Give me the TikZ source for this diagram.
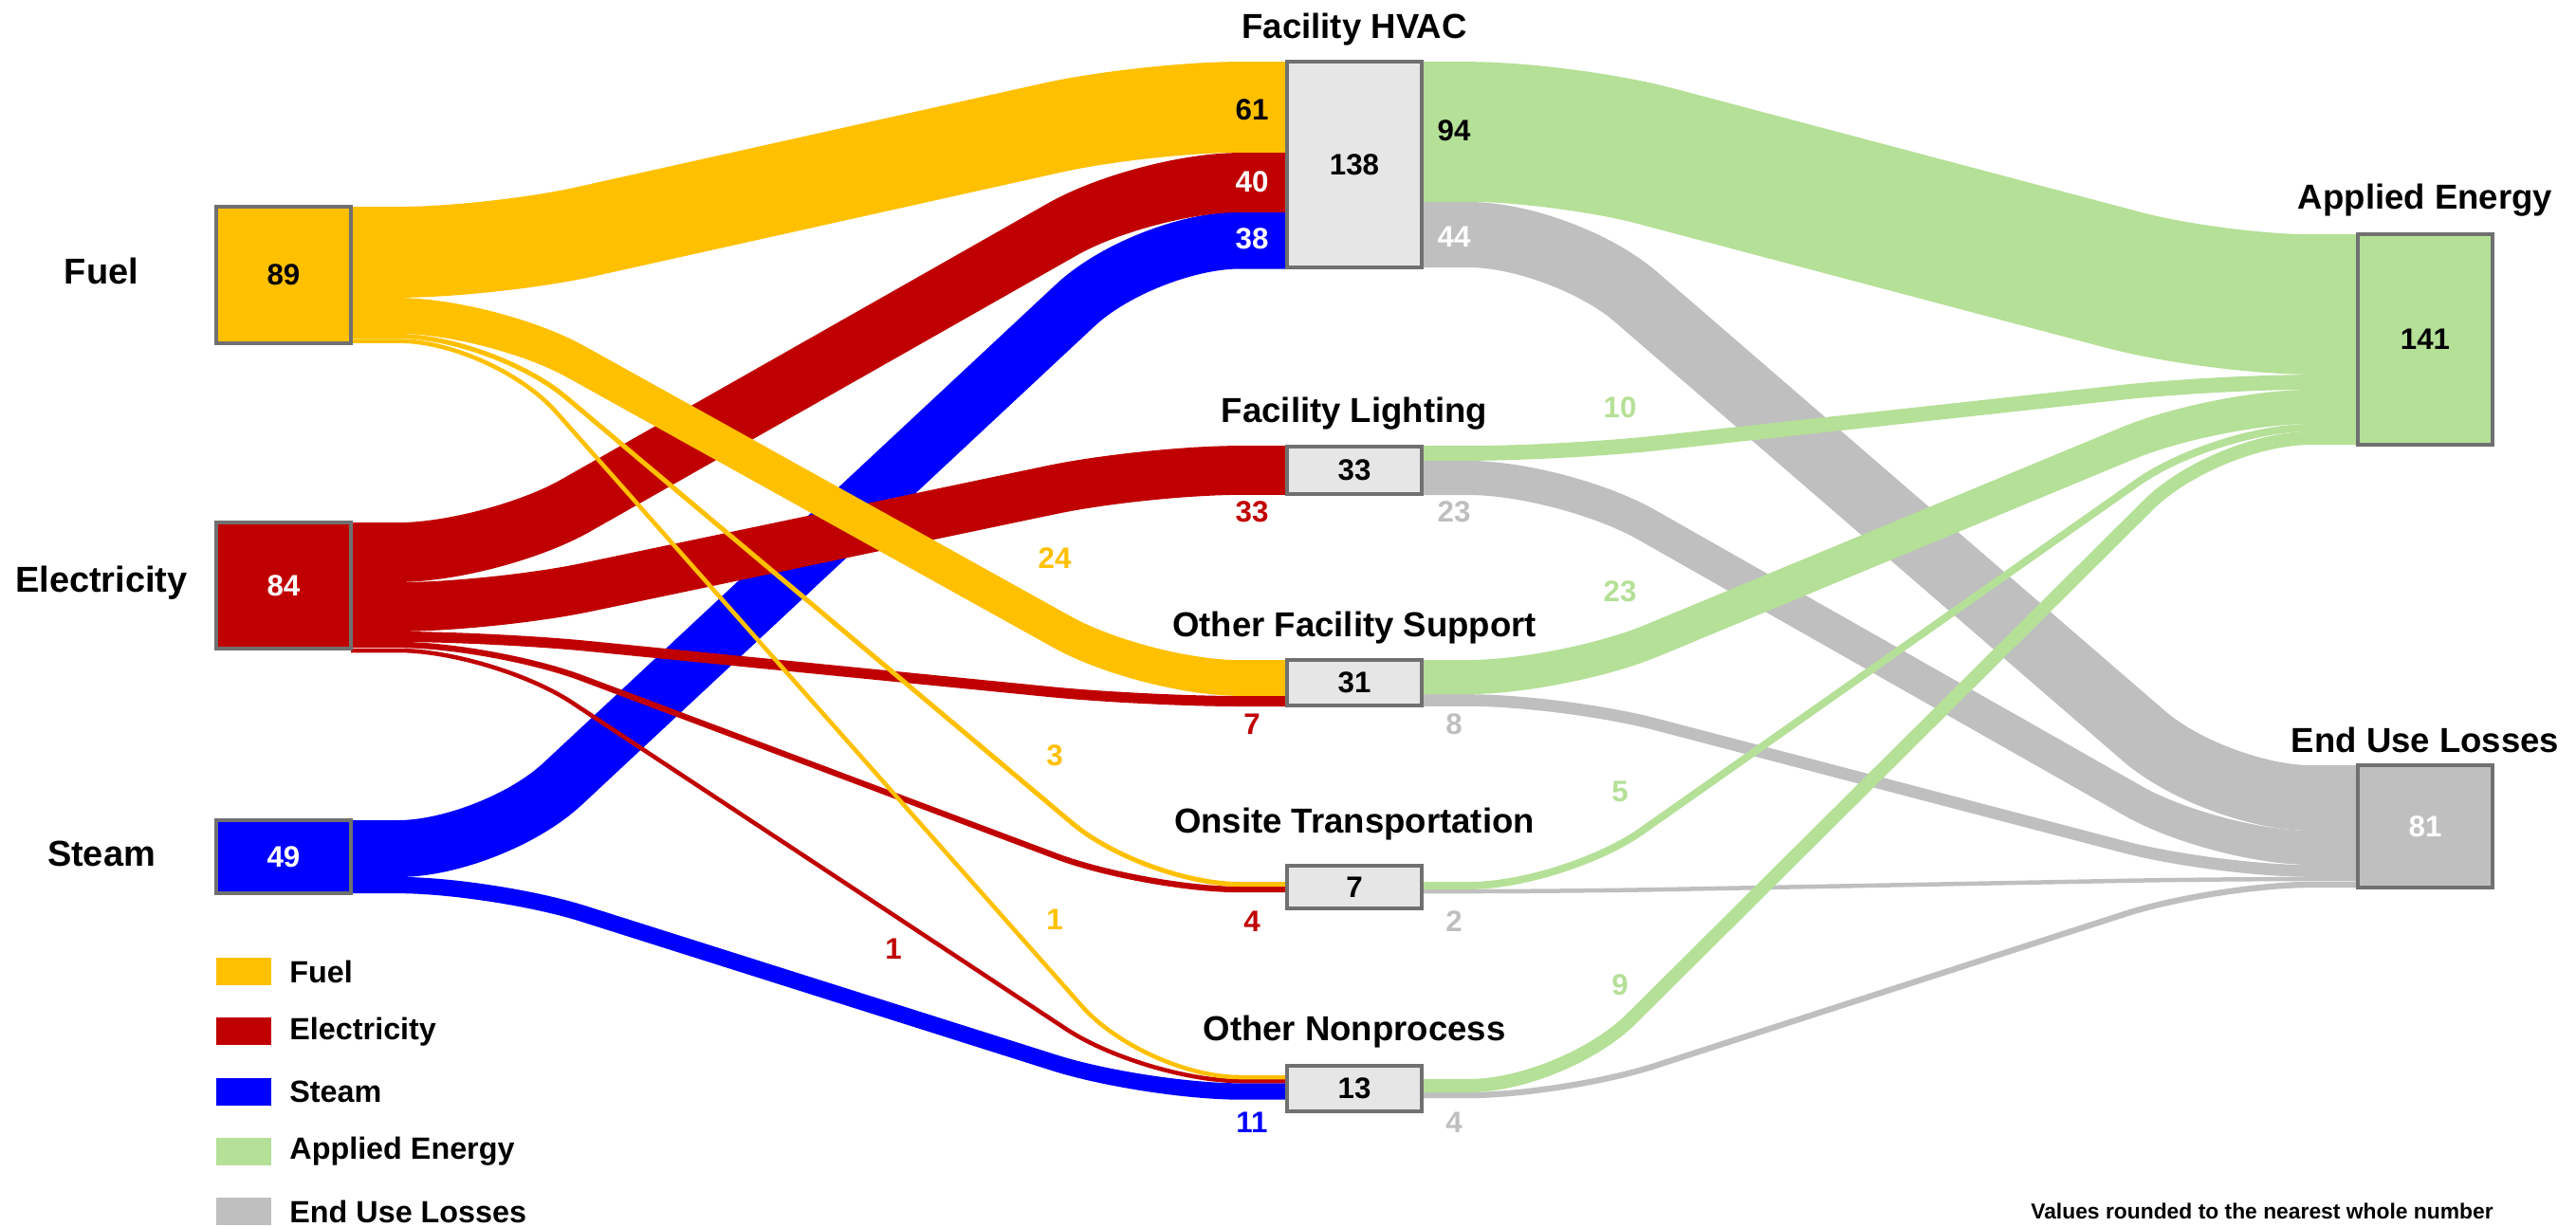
\documentclass[tikz,border=0pt]{standalone}
\usepackage{fontspec}
\setmainfont{Liberation Sans}
\usetikzlibrary{calc, positioning, backgrounds}

\definecolor{fuelc}{HTML}{FFC000}
\definecolor{elecc}{HTML}{C00000}
\definecolor{steamc}{HTML}{0000FF}
\definecolor{appc}{HTML}{B5E097}
\definecolor{lossc}{HTML}{BFBFBF}
\definecolor{boxc}{HTML}{E6E6E6}
\definecolor{edgec}{HTML}{707070}

\tikzset{
	box/.style={draw=edgec, line width=0.9pt, minimum width=1.42cm, inner sep=0pt, outer sep=0pt, font=\bfseries\fontsize{8.9}{10}\selectfont},
	midbox/.style={box, fill=boxc},
	srctitle/.style={font=\bfseries\fontsize{10.8}{13}\selectfont},
	title/.style={font=\bfseries\fontsize{10.4}{12}\selectfont},
	val/.style={font=\bfseries\fontsize{8.9}{10}\selectfont},
	legendbox/.style={minimum width=0.58cm, minimum height=0.29cm, inner sep=0pt},
	legendtext/.style={anchor=west, inner sep=0pt, font=\bfseries\fontsize{9.2}{11}\selectfont}
}

% colour, width, from, offset below its top, to, offset below its top
\newcommand{\flow}[6]{\draw[#1, line width=#2cm, rounded corners=10mm]
	($(#3.north east)+(0,-#4)$) -- ++(1.5,0) -- ($(#5.north west)+(-1.5,-#6)$) -- ($(#5.north west)+(0,-#6)$);}

\begin{document}
\begin{tikzpicture}
	\useasboundingbox (0,0) rectangle (27.16,-12.93);

	% sources
	\node[box, fill=fuelc, minimum height=1.44cm] (fuel) at (2.99,-2.90) {89};
	\node[box, fill=elecc, text=white, minimum height=1.33cm] (elec) at (2.99,-6.175) {84};
	\node[box, fill=steamc, text=white, minimum height=0.77cm] (steam) at (2.99,-9.035) {49};

	% end uses
	\node[midbox, minimum height=2.17cm] (hvac) at (14.28,-1.735) {138};
	\node[midbox, minimum height=0.50cm] (light) at (14.28,-4.96) {33};
	\node[midbox, minimum height=0.48cm] (ofs) at (14.28,-7.20) {31};
	\node[midbox, minimum height=0.45cm] (onsite) at (14.28,-9.355) {7};
	\node[midbox, minimum height=0.48cm] (nonproc) at (14.28,-11.48) {13};

	% results
	\node[box, fill=appc, minimum height=2.22cm] (applied) at (25.57,-3.58) {141};
	\node[box, fill=lossc, text=white, minimum height=1.29cm] (losses) at (25.57,-8.715) {81};

	\begin{pgfonlayer}{background}
	\fill[white] (0,0) rectangle (27.16,-12.93);

	\flow{steamc}{0.60}{steam}{0.30}{hvac}{1.885}
	\flow{steamc}{0.173}{steam}{0.685}{nonproc}{0.27}

	\flow{elecc}{0.628}{elec}{0.315}{hvac}{1.275}
	\flow{elecc}{0.518}{elec}{0.89}{light}{0.25}
	\flow{elecc}{0.11}{elec}{1.205}{ofs}{0.435}
	\flow{elecc}{0.063}{elec}{1.29}{onsite}{0.25}
	\flow{elecc}{0.045}{elec}{1.35}{nonproc}{0.16}

	\flow{fuelc}{0.958}{fuel}{0.48}{hvac}{0.48}
	\flow{fuelc}{0.377}{fuel}{1.15}{ofs}{0.19}
	\flow{fuelc}{0.05}{fuel}{1.365}{onsite}{0.195}
	\flow{fuelc}{0.045}{fuel}{1.415}{nonproc}{0.12}

	\flow{lossc}{0.69}{hvac}{1.825}{losses}{0.345}
	\flow{lossc}{0.36}{light}{0.33}{losses}{0.87}
	\flow{lossc}{0.126}{ofs}{0.425}{losses}{1.115}
	\flow{lossc}{0.045}{onsite}{0.27}{losses}{1.20}
	\flow{lossc}{0.063}{nonproc}{0.31}{losses}{1.26}

	\flow{appc}{1.476}{hvac}{0.74}{applied}{0.74}
	\flow{appc}{0.157}{light}{0.07}{applied}{1.56}
	\flow{appc}{0.36}{ofs}{0.18}{applied}{1.82}
	\flow{appc}{0.079}{onsite}{0.21}{applied}{2.04}
	\flow{appc}{0.141}{nonproc}{0.21}{applied}{2.15}
	\end{pgfonlayer}

	% titles
	\node[srctitle] (tfuel) at (1.07,-2.86) {Fuel};
	\node[srctitle] (telec) at (1.07,-6.15) {Electricity};
	\node[srctitle] (tsteam) at (1.07,-9.00) {Steam};
	\node[title] (thvac) at (14.28,-0.31) {Facility HVAC};
	\node[title] (tlight) at (14.28,-4.36) {Facility Lighting};
	\node[title] (tofs) at (14.28,-6.62) {Other Facility Support};
	\node[title] (tonsite) at (14.28,-8.69) {Onsite Transportation};
	\node[title] (tnonproc) at (14.28,-10.88) {Other Nonprocess};
	\node[title] (tapplied) at (25.57,-2.11) {Applied Energy};
	\node[title] (tlosses) at (25.57,-7.80) {End Use Losses};

	% flow values
	\node[val] (v61) at (13.20,-1.16) {61};
	\node[val, white] (v40) at (13.20,-1.92) {40};
	\node[val, white] (v38) at (13.20,-2.52) {38};
	\node[val] (v94) at (15.33,-1.38) {94};
	\node[val, white] (v44) at (15.33,-2.50) {44};

	\node[val, elecc] (v33) at (13.20,-5.40) {33};
	\node[val, lossc] (v23l) at (15.33,-5.40) {23};
	\node[val, appc] (v10) at (17.08,-4.30) {10};

	\node[val, fuelc] (v24) at (11.12,-5.89) {24};
	\node[val, elecc] (v7) at (13.20,-7.64) {7};
	\node[val, lossc] (v8) at (15.33,-7.64) {8};
	\node[val, appc] (v23a) at (17.08,-6.24) {23};

	\node[val, fuelc] (v3) at (11.12,-7.97) {3};
	\node[val, elecc] (v4e) at (13.20,-9.72) {4};
	\node[val, lossc] (v2) at (15.33,-9.72) {2};
	\node[val, appc] (v5) at (17.08,-8.35) {5};

	\node[val, fuelc] (v1f) at (11.12,-9.70) {1};
	\node[val, elecc] (v1e) at (9.42,-10.01) {1};
	\node[val, steamc] (v11) at (13.20,-11.84) {11};
	\node[val, lossc] (v4l) at (15.33,-11.84) {4};
	\node[val, appc] (v9) at (17.08,-10.39) {9};

	% legend
	\foreach \c/\t [count=\i] in {fuelc/Fuel, elecc/Electricity, steamc/Steam, appc/Applied Energy, lossc/End Use Losses} {
		\node[legendbox, fill=\c] (lg\i) at (2.57,{-10.245-0.6325*(\i-1)}) {};
		\node[legendtext, right=0.18cm of lg\i] (lt\i) {\t};
	}

	\node[font=\bfseries\fontsize{6.5}{8}\selectfont] (note) at (23.85,-12.77) {Values rounded to the nearest whole number};
\end{tikzpicture}
\end{document}
